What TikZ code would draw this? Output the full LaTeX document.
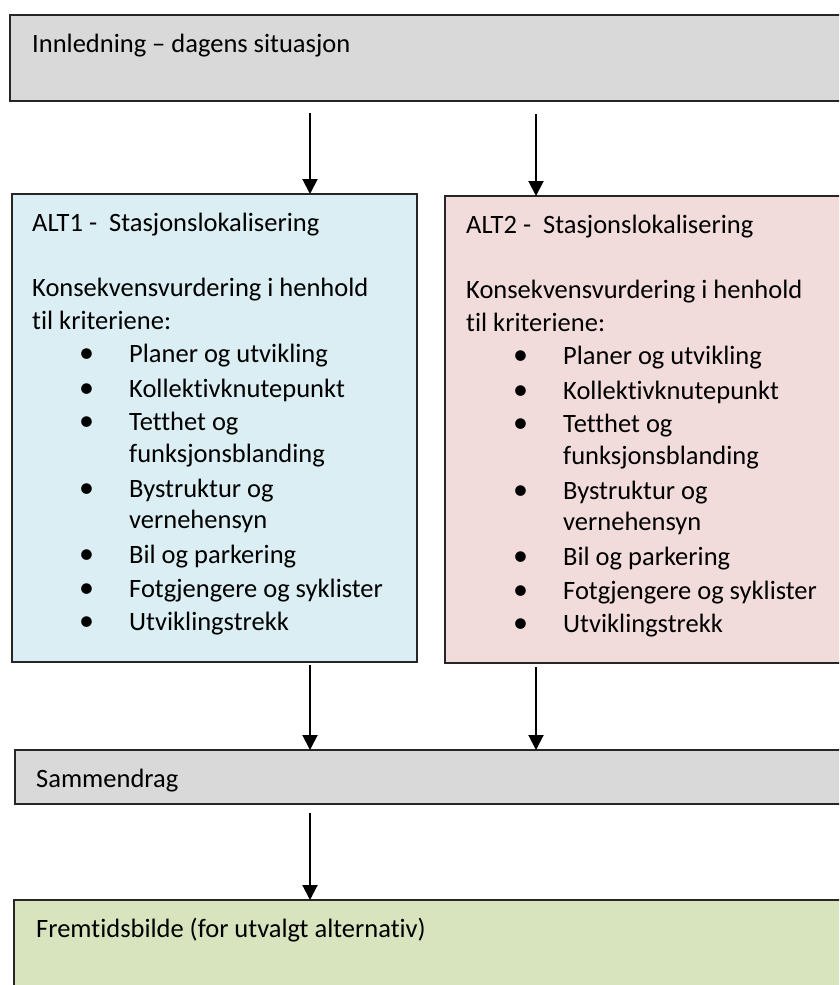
\documentclass[tikz,border=0pt]{standalone}
\usepackage{fontspec}
\setmainfont[Ligatures=NoCommon,RawFeature=-liga]{Carlito}
\usetikzlibrary{arrows.meta}
\definecolor{boxgray}{HTML}{D9D9D9}
\definecolor{altblue}{HTML}{DAEEF3}
\definecolor{altred}{HTML}{F2DCDB}
\definecolor{futgreen}{HTML}{D7E4BD}
\newcommand\altcontent[2]{%
  \node[txt] (#1title) at (32,231) {#2\ \ Stasjonslokalisering};
  \node[txt] (#1introa) at (32,296) {Konsekvensvurdering i henhold};
  \node[txt] (#1introb) at (32,329) {til kriteriene:};
  \foreach \yy/\tt [count=\i] in {362/Planer og utvikling, 397/Kollektivknutepunkt, 430/Tetthet og, 462/funksjonsblanding, 497/Bystruktur og, 528/vernehensyn, 563/Bil og parkering, 597/Fotgjengere og syklister, 630/Utviklingstrekk}
    \node[txt] (#1line\i) at (129,\yy) {\tt};
  \foreach \yy [count=\i] in {362,397,430,497,563,597,630}
    \node[bul] (#1bul\i) at (86.5,\yy) {\textbullet};
}
\begin{document}
\begin{tikzpicture}[x=1pt,y=-1pt,
  box/.style={draw=black!85, line width=1.6pt, anchor=north west, inner sep=0pt, outer sep=0pt},
  txt/.style={anchor=base west, inner sep=0pt, font=\fontsize{26.5}{33}\selectfont},
  bul/.style={anchor=base, inner sep=0pt, font=\fontsize{30}{33}\selectfont},
  arr/.style={line width=2pt, -{Triangle[width=15pt,length=15pt]}}]
\clip (0,0) rectangle (839,985);
\fill[white] (0,0) rectangle (839,985);
% boxes
\node[box, fill=boxgray, minimum width=840pt, minimum height=86pt] (intro) at (10,15) {};
\node[box, fill=altblue, minimum width=405pt, minimum height=468pt] (alt1) at (12,194) {};
\node[box, fill=altred, minimum width=405pt, minimum height=467pt] (alt2) at (445,196) {};
\node[box, fill=boxgray, minimum width=835pt, minimum height=54pt] (summ) at (15,750) {};
\node[box, fill=futgreen, minimum width=836pt, minimum height=110pt] (future) at (14,900) {};
% texts
\node[txt] (introtext) at (32,52) {Innledning – dagens situasjon};
\begin{scope}
  \altcontent{a}{ALT1 -}
\end{scope}
\begin{scope}[shift={(434,2)}]
  \altcontent{b}{ALT2 -}
\end{scope}
\node[txt] (summtext) at (36,787) {Sammendrag};
\node[txt] (futuretext) at (36,937) {Fremtidsbilde (for utvalgt alternativ)};
% arrows
\coordinate (s1) at (310,113);
\coordinate (s2) at (536,114);
\coordinate (s3) at (310,665);
\coordinate (s4) at (536,667);
\coordinate (s5) at (310,813);
\draw[arr] (s1) -- (s1 |- alt1.north);
\draw[arr] (s2) -- (s2 |- alt2.north);
\draw[arr] (s3) -- (s3 |- summ.north);
\draw[arr] (s4) -- (s4 |- summ.north);
\draw[arr] (s5) -- (s5 |- future.north);
\end{tikzpicture}
\end{document}
